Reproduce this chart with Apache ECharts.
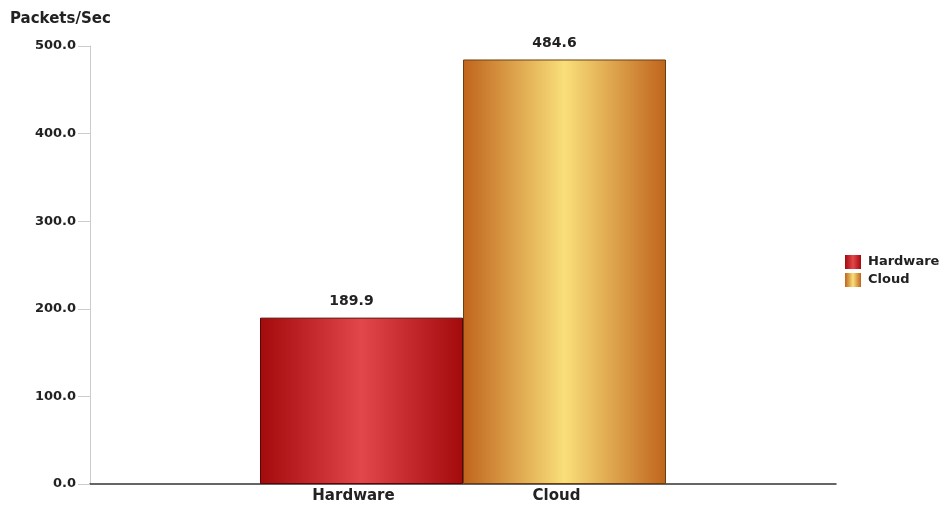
<!DOCTYPE html>
<html>
<head>
<meta charset="utf-8">
<script src="https://cdn.jsdelivr.net/npm/echarts@6/dist/echarts.min.js"></script>
<style>
  html, body { margin: 0; padding: 0; background: #fff; }
  #chart { width: 945px; height: 506px; }
</style>
</head>
<body>
<div id="chart"></div>
<script>
// Throughput comparison data
const categories = ['Hardware', 'Cloud'];
const seriesNames = ['Hardware', 'Cloud'];
const hardwareValues = [189.9, null];
const cloudValues = [null, 484.6];
const yTicks = { min: 0, max: 500, interval: 100 };

const FONT = '"DejaVu Sans", Verdana, sans-serif';

function barGradient(edge, mid) {
  return new echarts.graphic.LinearGradient(0, 0, 1, 0, [
    { offset: 0, color: edge },
    { offset: 0.5, color: mid },
    { offset: 1, color: edge }
  ]);
}
const redFill = barGradient('#a30a0c', '#e2474b');
const goldFill = barGradient('#c0641c', '#f9df7a');

const chart = echarts.init(document.getElementById('chart'));

const labelStyle = {
  show: true,
  position: 'top',
  distance: 9,
  offset: [-10, 0],
  color: '#222',
  fontFamily: FONT,
  fontWeight: 'bold',
  fontSize: 14,
  formatter: p => p.value == null ? '' : Number(p.value).toFixed(1)
};

chart.setOption({
  animation: false,
  backgroundColor: '#fff',
  title: {
    text: 'Packets/Sec',
    left: 10,
    top: 12,
    padding: 0,
    textStyle: { fontFamily: FONT, fontWeight: 'bold', fontSize: 15, color: '#222' }
  },
  legend: {
    orient: 'vertical',
    left: 845,
    top: 255,
    padding: 0,
    itemWidth: 16,
    itemHeight: 14,
    itemGap: 4,
    icon: 'rect',
    itemStyle: { borderWidth: 0 },
    textStyle: { fontFamily: FONT, fontWeight: 'bold', fontSize: 13, color: '#222', lineHeight: 14, padding: [0, 0, 0, 2] },
    data: seriesNames
  },
  grid: [
    // full-width frame carrying the value axis and baseline
    { left: 90, right: 109, top: 46, bottom: 22 },
    // bar area
    { left: 260, right: 279, top: 46, bottom: 22 }
  ],
  xAxis: [
    {
      gridIndex: 0,
      type: 'value',
      min: 0, max: 1,
      axisLine: { show: true, onZero: false, lineStyle: { color: '#333', width: 1.5 } },
      axisTick: { show: false },
      axisLabel: { show: false },
      splitLine: { show: false }
    },
    {
      gridIndex: 1,
      type: 'category',
      data: categories,
      axisLine: { show: false },
      axisTick: { show: false },
      axisLabel: {
        margin: 5,
        color: '#222',
        fontFamily: FONT,
        fontWeight: 'bold',
        fontSize: 15,
        padding: [0, 16, 0, 0]
      }
    }
  ],
  yAxis: [
    {
      gridIndex: 0,
      type: 'value',
      min: yTicks.min, max: yTicks.max, interval: yTicks.interval,
      axisLine: { show: true, lineStyle: { color: '#ccc' } },
      axisTick: { show: true, inside: false, length: 12, lineStyle: { color: '#ccc' } },
      axisLabel: {
        margin: 14,
        color: '#222',
        fontFamily: FONT,
        fontWeight: 'bold',
        fontSize: 13,
        padding: [4, 0, 0, 0],
        formatter: v => v.toFixed(1)
      },
      splitLine: { show: false }
    },
    {
      gridIndex: 1,
      type: 'value',
      min: yTicks.min, max: yTicks.max, interval: yTicks.interval,
      show: false
    }
  ],
  series: [
    {
      name: seriesNames[0],
      type: 'bar',
      xAxisIndex: 1, yAxisIndex: 1,
      stack: 'all',
      barWidth: '100%',
      data: hardwareValues,
      itemStyle: { color: redFill, borderColor: '#5a0606', borderWidth: 1 },
      label: labelStyle
    },
    {
      name: seriesNames[1],
      type: 'bar',
      xAxisIndex: 1, yAxisIndex: 1,
      stack: 'all',
      barWidth: '100%',
      data: cloudValues,
      itemStyle: { color: goldFill, borderColor: '#6a4010', borderWidth: 1 },
      label: labelStyle
    }
  ]
});
</script>
</body>
</html>
